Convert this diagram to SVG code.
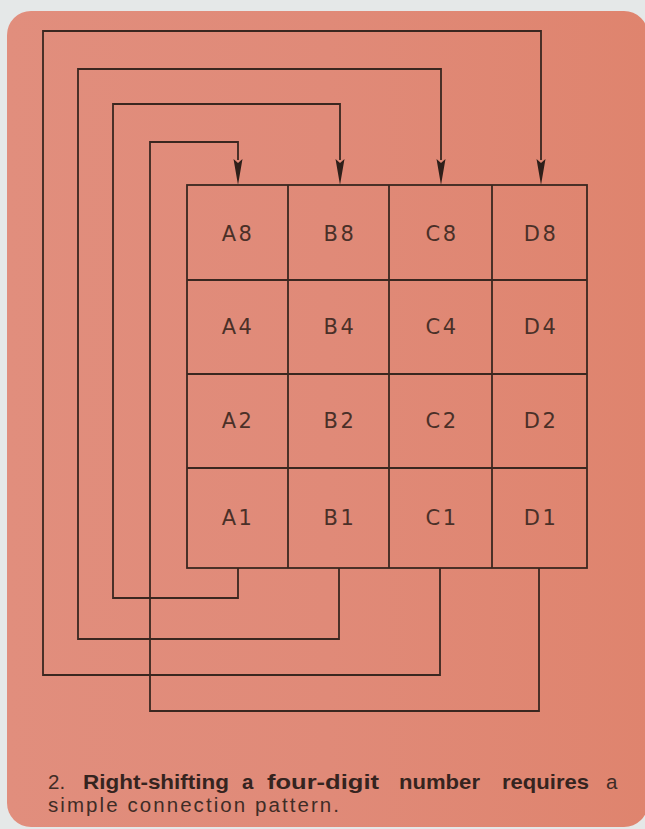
<svg xmlns="http://www.w3.org/2000/svg" width="645" height="829" viewBox="0 0 645 829">
  <defs>
    <linearGradient id="bgGrad" x1="0" y1="0" x2="1" y2="0">
      <stop offset="0" stop-color="#e18e7d"/>
      <stop offset="0.5" stop-color="#e08a78"/>
      <stop offset="1" stop-color="#df846e"/>
    </linearGradient>
    <style>
      .wire { fill: none; stroke: #3a2720; stroke-width: 1.8; stroke-linejoin: miter; }
      .grid { fill: none; stroke: #3a2720; stroke-width: 1.8; }
      .head { fill: #2e1f1a; }
      .lbl { font-family: "DejaVu Sans", "Liberation Sans", sans-serif; font-size: 21px; letter-spacing: 2.5px; fill: #4a3028; text-anchor: middle; }
      .cap { font-family: "Liberation Sans", "Noto Sans", sans-serif; font-size: 20.5px; fill: #3f2c26; }
      .capb { font-weight: bold; fill: #35241f; }
    </style>
  </defs>

  <rect x="0" y="0" width="645" height="829" fill="#e5e8e8"/>
  <rect x="7" y="11" width="641" height="816" rx="24" ry="24" fill="url(#bgGrad)"/>

  <g id="connectors">
    <!-- A1 -> B8 -->
    <path class="wire" d="M238,568 V598 H113 V104 H340 V160"/>
    <!-- B1 -> C8 -->
    <path class="wire" d="M339,568 V639 H78 V69 H441 V160"/>
    <!-- C1 -> D8 -->
    <path class="wire" d="M440,568 V675 H43 V31 H541 V160"/>
    <!-- D1 -> A8 -->
    <path class="wire" d="M539,568 V711 H150 V142 H238 V160"/>
    <path class="head" d="M233.5,159 L238,163 L242.5,159 L238,185 Z"/>
    <path class="head" d="M335.5,159 L340,163 L344.5,159 L340,185 Z"/>
    <path class="head" d="M436.5,159 L441,163 L445.5,159 L441,185 Z"/>
    <path class="head" d="M536.5,159 L541,163 L545.5,159 L541,185 Z"/>
  </g>

  <g id="register-grid">
    <rect class="grid" x="187" y="185" width="400" height="383"/>
    <line class="grid" x1="288" y1="185" x2="288" y2="568"/>
    <line class="grid" x1="389" y1="185" x2="389" y2="568"/>
    <line class="grid" x1="492" y1="185" x2="492" y2="568"/>
    <line class="grid" x1="187" y1="280" x2="587" y2="280"/>
    <line class="grid" x1="187" y1="374" x2="587" y2="374"/>
    <line class="grid" x1="187" y1="468" x2="587" y2="468"/>
  </g>

  <g id="A8"><text class="lbl" x="238" y="241">A8</text></g>
  <g id="B8"><text class="lbl" x="340" y="241">B8</text></g>
  <g id="C8"><text class="lbl" x="442" y="241">C8</text></g>
  <g id="D8"><text class="lbl" x="541" y="241">D8</text></g>

  <g id="A4"><text class="lbl" x="238" y="334">A4</text></g>
  <g id="B4"><text class="lbl" x="340" y="334">B4</text></g>
  <g id="C4"><text class="lbl" x="442" y="334">C4</text></g>
  <g id="D4"><text class="lbl" x="541" y="334">D4</text></g>

  <g id="A2"><text class="lbl" x="238" y="428">A2</text></g>
  <g id="B2"><text class="lbl" x="340" y="428">B2</text></g>
  <g id="C2"><text class="lbl" x="442" y="428">C2</text></g>
  <g id="D2"><text class="lbl" x="541" y="428">D2</text></g>

  <g id="A1"><text class="lbl" x="238" y="525">A1</text></g>
  <g id="B1"><text class="lbl" x="340" y="525">B1</text></g>
  <g id="C1"><text class="lbl" x="442" y="525">C1</text></g>
  <g id="D1"><text class="lbl" x="541" y="525">D1</text></g>

  <g id="caption">
    <text class="cap" x="48" y="789">2.</text>
    <text class="cap capb" x="83" y="789" textLength="146" lengthAdjust="spacingAndGlyphs">Right-shifting</text>
    <text class="cap capb" x="242" y="789">a</text>
    <text class="cap capb" x="267" y="789" textLength="112" lengthAdjust="spacingAndGlyphs">four-digit</text>
    <text class="cap capb" x="399" y="789" textLength="81" lengthAdjust="spacingAndGlyphs">number</text>
    <text class="cap capb" x="502" y="789" textLength="87" lengthAdjust="spacingAndGlyphs">requires</text>
    <text class="cap" x="606" y="789">a</text>
    <text class="cap" x="48" y="812" textLength="291" lengthAdjust="spacing">simple connection pattern.</text>
  </g>
</svg>
